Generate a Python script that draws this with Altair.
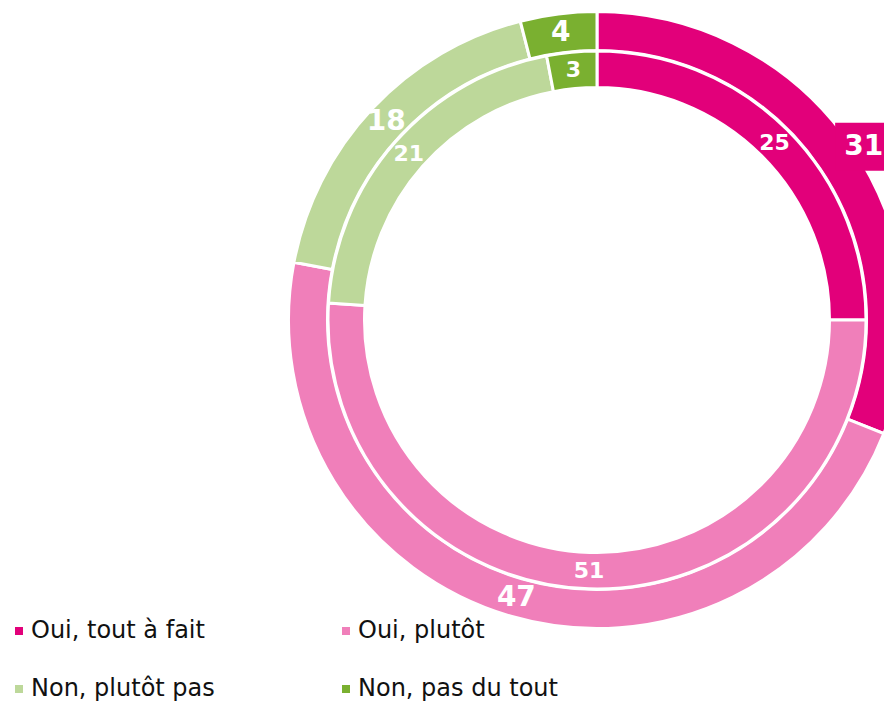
import math
import altair as alt
import pandas as pd

categories = ["Oui, tout à fait", "Oui, plutôt", "Non, plutôt pas", "Non, pas du tout"]
outer_values = [31, 47, 18, 4]
inner_values = [25, 51, 21, 3]
colors = ["#E2007A", "#F07FBA", "#BDD89A", "#7AB030"]

rows = []
for ring, vals in (("outer", outer_values), ("inner", inner_values)):
    for i, (c, v) in enumerate(zip(categories, vals)):
        rows.append({"ring": ring, "cat": c, "idx": i, "value": v})
df = pd.DataFrame(rows)

CX, CY = 589, 312
FONT = "DejaVu Sans"

base = alt.Chart(df).transform_window(
    cum="sum(value)", groupby=["ring"], sort=[alt.SortField("idx")], frame=[None, 0]
).transform_calculate(
    start="datum.cum - datum.value",
    mid="datum.cum - datum.value / 2",
)

theta_scale = alt.Scale(domain=[0, 100])
color = alt.Color(
    "cat:N",
    scale=alt.Scale(domain=categories, range=colors),
    legend=alt.Legend(
        title=None,
        orient="none",
        legendX=-1,
        legendY=611,
        columns=2,
        direction="horizontal",
        symbolType="square",
        symbolSize=64,
        symbolStrokeWidth=0,
        labelFont=FONT,
        labelFontSize=24,
        labelColor="#111111",
        labelOffset=0,
        labelLimit=400,
        columnPadding=119,
        rowPadding=34,
        padding=0,
    ),
)

outer_arc = base.transform_filter("datum.ring == 'outer'").mark_arc(
    x=CX, y=CY, outerRadius=308.5, innerRadius=269.5, stroke="white", strokeWidth=3
).encode(
    theta=alt.Theta("start:Q", stack=None, scale=theta_scale),
    theta2="cum:Q",
    color=color,
    order=alt.Order("idx:Q"),
)

inner_arc = base.transform_filter("datum.ring == 'inner'").mark_arc(
    x=CX, y=CY, outerRadius=269, innerRadius=232.5, stroke="white", strokeWidth=3
).encode(
    theta=alt.Theta("start:Q", stack=None, scale=theta_scale),
    theta2="cum:Q",
    color=color,
    order=alt.Order("idx:Q"),
)

inner_text = base.transform_filter("datum.ring == 'inner'").mark_text(
    x=CX, y=CY, radius=251, font=FONT, fontWeight="bold", fontSize=22,
    color="white", align="center", baseline="middle",
).encode(
    theta=alt.Theta("mid:Q", stack=None, scale=theta_scale),
    text="value:Q",
)

outer_text = base.transform_filter("datum.ring == 'outer' && datum.idx > 0").mark_text(
    x=CX, y=CY, radius=289, font=FONT, fontWeight="bold", fontSize=28,
    color="white", align="center", baseline="middle",
).encode(
    theta=alt.Theta("mid:Q", stack=None, scale=theta_scale),
    text="value:Q",
)

first = base.transform_filter("datum.ring == 'outer' && datum.idx == 0").transform_calculate(
    lx=f"{CX} + 326 * sin(datum.mid * PI / 50) - 3",
    ly=f"{CY} - 326 * cos(datum.mid * PI / 50) + 10",
)

box = first.mark_point(
    shape="M-1,-0.84H1V0.84H-1Z", size=57 * 57, filled=True, opacity=1,
    color="#E2007A", strokeWidth=0,
).encode(
    x=alt.X("lx:Q", scale=None, axis=None),
    y=alt.Y("ly:Q", scale=None, axis=None),
)

box_text = first.mark_text(
    font=FONT, fontWeight="bold", fontSize=28, color="white",
    align="center", baseline="middle",
).encode(
    x=alt.X("lx:Q", scale=None, axis=None),
    y=alt.Y("ly:Q", scale=None, axis=None),
    text="value:Q",
)

chart = alt.layer(
    outer_arc, inner_arc, inner_text, outer_text, box, box_text
).properties(
    width=876, height=693, padding=0, autosize=alt.AutoSizeParams(type="none")
).configure_view(stroke=None)

chart.save("out.html", embed_options={"renderer": "svg", "actions": False})
